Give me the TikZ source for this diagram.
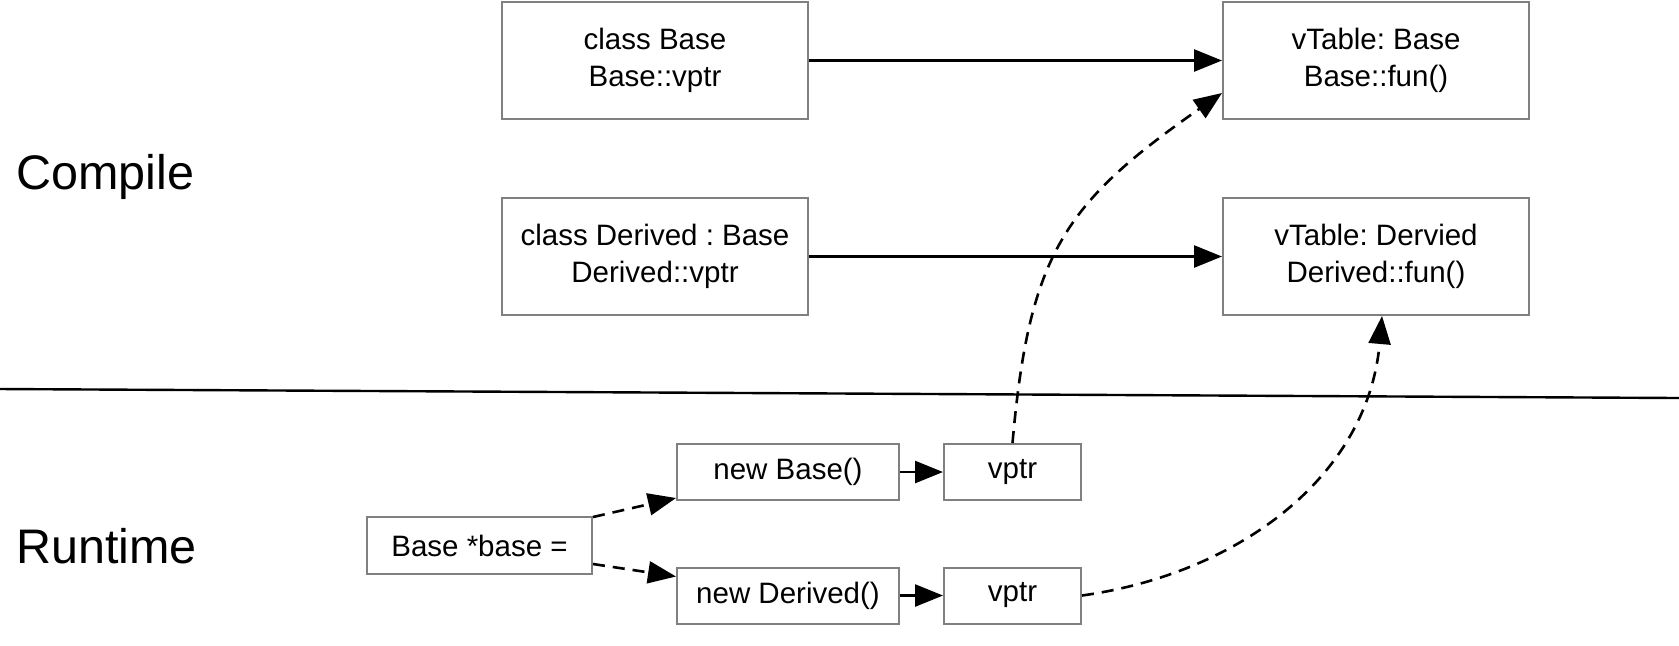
\documentclass[tikz,border=0pt]{standalone}
\usepackage{fontspec}
\setmainfont{Liberation Sans}
\usepackage{tikz}
\usetikzlibrary{positioning, arrows.meta, calc}
\definecolor{boxline}{HTML}{808080}
\frenchspacing

\begin{document}
\begin{tikzpicture}[x=0.5pt, y=0.5pt,
        every node/.style={font=\fontsize{14.75}{18.2}\selectfont},
        box/.style={rectangle, draw=boxline, line width=1pt, fill=white,
          minimum width=153pt, minimum height=58.5pt, align=center,
          inner sep=2pt},
        smallbox/.style={box, minimum width=111pt, minimum height=28pt},
        ptrbox/.style={box, minimum width=68.5pt, minimum height=28pt},
        stage/.style={anchor=west, inner sep=0pt,
          font=\fontsize{24.25}{29}\selectfont},
        arr/.style={-{Triangle[length=14pt, width=11pt]}, line width=1.3pt},
        darr/.style={arr, dash pattern=on 6pt off 4pt}]

      \useasboundingbox (0,0) rectangle (1679,-645);

      % compile time
      \node[stage] (compile) at (16,-177) {Compile};
      \node[box] (base) at (655,-60.5) {class Base\\Base::vptr};
      \node[box, below=38.5pt of base] (derived)
        {class Derived : Base\\Derived::vptr};
      \node[box, right=206.5pt of base] (vtbase) {vTable: Base\\Base::fun()};
      \node[box, right=206.5pt of derived] (vtderived)
        {vTable: Dervied\\Derived::fun()};

      % separator
      \coordinate (sepL) at (0,-389);
      \coordinate (sepR) at (1679,-398);
      \draw[line width=1.2pt] (sepL) -- (sepR);

      % run time
      \node[stage] (runtime) at (16,-546) {Runtime};
      \node[box, minimum width=112.5pt, minimum height=28.5pt] (ptr)
        at (479.5,-545.5) {Base *base =};
      \node[smallbox] (newbase) at (788,-472) {new Base()};
      \node[ptrbox, right=21.5pt of newbase] (vptrA) {vptr};
      \node[smallbox] (newderived) at (788,-595.5) {new Derived()};
      \node[ptrbox, right=21.5pt of newderived] (vptrB) {vptr};

      \draw[arr] (base) -- (vtbase);
      \draw[arr] (derived) -- (vtderived);
      \draw[arr] (newbase) -- (vptrA);
      \draw[arr] (newderived) -- (vptrB);
      \draw[darr] ($(ptr.north east)+(0,-1)$) -- ($(newbase.south west)+(0,3)$);
      \draw[darr] ($(ptr.south east)+(0,11)$) -- ($(newderived.north west)+(0,-10)$);
      \draw[darr] (vptrA.north) to[out=85, in=215, looseness=1.2]
        ($(vtbase.south west)+(0,27)$);
      \draw[darr] (vptrB.east) to[out=8, in=-95] ($(vtderived.south)+(6,0)$);
    \end{tikzpicture}
\end{document}
